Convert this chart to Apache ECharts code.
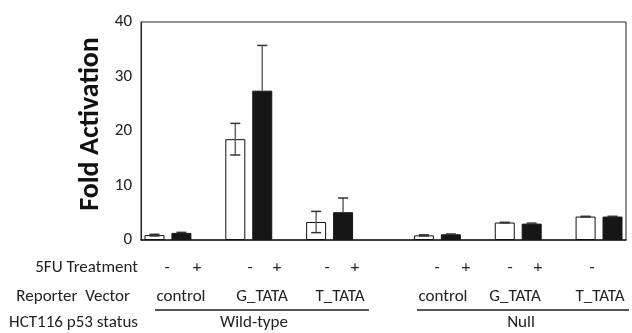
<!DOCTYPE html>
<html>
<head>
<meta charset="utf-8">
<script src="https://cdn.jsdelivr.net/npm/echarts@6/dist/echarts.min.js"></script>
<style>
    html, body { margin: 0; padding: 0; background: #fff; }
    #chart { width: 632px; height: 333px; }
</style>
</head>
<body>
<div id="chart"></div>
<script>
    // data
    var statuses = ['Wild-type', 'Null']
    var vectors = ['control', 'G_TATA', 'T_TATA']
    var wtUntreated = [0.9, 18.5, 3.3]
    var wtTreated = [1.3, 27.4, 5.1]
    var wtUntreatedErr = [0.15, 2.9, 1.95]
    var wtTreatedErr = [0.1, 8.3, 2.6]
    var nullUntreated = [0.85, 3.2, 4.3]
    var nullTreated = [1.05, 3.0, 4.3]
    var nullUntreatedErr = [0.1, 0.05, 0.05]
    var nullTreatedErr = [0.05, 0.1, 0.05]
    var yTicks = [0, 10, 20, 30, 40]

    var FONT = 'Carlito, "Open Sans", sans-serif'

    // 18 slots: pairs of bars with one empty slot between vectors, two between statuses
    var slotCount = 18
    var slots = []
    for (var i = 0; i < slotCount; i++) slots.push('s' + i)
    function slotOf (s, v, treated) { return s * 10 + v * 3 + (treated ? 1 : 0) }

    var untreatedData = [], treatedData = [], untreatedErr = [], treatedErr = []
    for (var k = 0; k < slotCount; k++) {
        untreatedData.push('-'); treatedData.push('-')
    }
    var unt = [wtUntreated, nullUntreated], trt = [wtTreated, nullTreated]
    var untE = [wtUntreatedErr, nullUntreatedErr], trtE = [wtTreatedErr, nullTreatedErr]
    statuses.forEach(function (st, s) {
        vectors.forEach(function (vec, v) {
            untreatedData[slotOf(s, v, false)] = unt[s][v]
            untreatedErr.push([slotOf(s, v, false), unt[s][v], untE[s][v]])
            treatedData[slotOf(s, v, true)] = trt[s][v]
            treatedErr.push([slotOf(s, v, true), trt[s][v], trtE[s][v]])
        })
    })

    function errorBar (both) {
        return function (params, api) {
            var x = api.value(0), y = api.value(1), e = api.value(2)
            var top = api.coord([x, y + e])
            var mid = api.coord([x, y])
            var bot = api.coord([x, y - e])
            var half = 5
            var children = [
                { type: 'line', shape: { x1: top[0], y1: top[1], x2: mid[0], y2: mid[1] }, style: { stroke: '#666', lineWidth: 1.5 } },
                { type: 'line', shape: { x1: top[0] - half, y1: top[1], x2: top[0] + half, y2: top[1] }, style: { stroke: '#333', lineWidth: 1.5 } }
            ]
            if (both) {
                children.push({ type: 'line', shape: { x1: mid[0], y1: mid[1], x2: bot[0], y2: bot[1] }, style: { stroke: '#666', lineWidth: 1.5 } })
                children.push({ type: 'line', shape: { x1: bot[0] - half, y1: bot[1], x2: bot[0] + half, y2: bot[1] }, style: { stroke: '#333', lineWidth: 1.5 } })
            }
            return { type: 'group', children: children }
        }
    }

    var chart = echarts.init(document.getElementById('chart'), null, { renderer: 'canvas' })
    var option = {
        animation: false,
        backgroundColor: '#fff',
        grid: {
            left: 141, right: 6, top: 22, bottom: 93,
            show: true, borderColor: '#222', borderWidth: 1
        },
        xAxis: {
            type: 'category',
            data: slots,
            axisLine: { show: true, lineStyle: { color: '#222', width: 1.5 } },
            axisTick: { show: false },
            axisLabel: { show: false }
        },
        yAxis: {
            type: 'value',
            min: yTicks[0],
            max: yTicks[yTicks.length - 1],
            interval: 10,
            axisLine: { show: true, lineStyle: { color: '#222' } },
            axisTick: { show: false },
            splitLine: { show: false },
            axisLabel: { color: '#222', fontSize: 17, fontFamily: FONT, margin: 9 }
        },
        series: [
            {
                name: '5FU -',
                type: 'bar',
                data: untreatedData,
                barWidth: 20,
                barGap: '-100%',
                itemStyle: { color: '#fff', borderColor: '#111', borderWidth: 1 },
                z: 2
            },
            {
                name: '5FU +',
                type: 'bar',
                data: treatedData,
                barWidth: 20,
                barGap: '-100%',
                itemStyle: { color: '#161616', borderColor: '#161616', borderWidth: 1 },
                z: 2
            },
            {
                type: 'custom',
                renderItem: errorBar(true),
                data: untreatedErr,
                z: 3
            },
            {
                type: 'custom',
                renderItem: errorBar(false),
                data: treatedErr,
                z: 3
            }
        ]
    }
    chart.setOption(option)

    // annotation rows under the axis
    var txt = { fill: '#222', fontSize: 17, fontFamily: FONT }
    function label (text, x, y, align) {
        return { type: 'text', x: x, y: y, style: Object.assign({ text: text, align: align || 'center', verticalAlign: 'middle' }, txt) }
    }
    var rowY = [268, 297, 323]
    var g = []
    g.push({
        type: 'text', x: 91, y: 124, rotation: Math.PI / 2,
        style: { text: 'Fold Activation', fill: '#111', fontSize: 28, fontWeight: 'bold', fontFamily: FONT, align: 'center', verticalAlign: 'middle' }
    })
    g.push(label('5FU Treatment', 138, rowY[0], 'right'))
    g.push(label('Reporter  Vector', 130, rowY[1], 'right'))
    g.push(label('HCT116 p53 status', 138, rowY[2], 'right'))

    // treatment signs (the last null pair only carries a '-')
    var signText = ['-', '+', '-', '+', '-', '+', '-', '+', '-', '+', '-']
    var signX = [167, 197, 250, 277, 327, 355, 437, 466, 510, 538, 592]
    signText.forEach(function (t, i) { g.push(label(t, signX[i], rowY[0])) })

    var vecX = [[181, 262, 340], [443, 515, 600]]
    statuses.forEach(function (st, s) {
        vectors.forEach(function (vec, v) {
            g.push(label(vec, vecX[s][v], rowY[1]))
        })
    })
    g.push({ type: 'line', shape: { x1: 155, y1: 310, x2: 369, y2: 310 }, style: { stroke: '#555', lineWidth: 2 } })
    g.push({ type: 'line', shape: { x1: 417, y1: 310, x2: 629, y2: 310 }, style: { stroke: '#555', lineWidth: 2 } })
    g.push(label(statuses[0], 254, rowY[2]))
    g.push(label(statuses[1], 521, rowY[2]))

    chart.setOption({ graphic: g })
</script>
</body>
</html>
